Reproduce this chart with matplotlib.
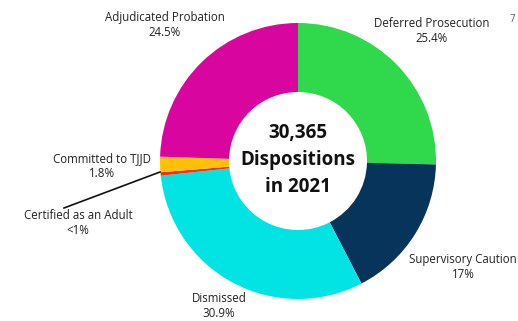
import matplotlib
matplotlib.use("Agg")
import matplotlib.pyplot as plt

# disposition shares (%), clockwise from 12 o'clock
labels = ["Deferred Prosecution", "Supervisory Caution", "Dismissed",
          "Certified as an Adult", "Committed to TJJD", "Adjudicated Probation"]
shares = [25.4, 17.0, 30.9, 0.4, 1.8, 24.5]
pct_text = ["25.4%", "17%", "30.9%", "<1%", "1.8%", "24.5%"]
colors = ["#2fd94b", "#07345a", "#02e3e3", "#f0301a", "#ffc107", "#d8069f"]

total = "30,365"

plt.rcParams['font.family'] = ['Open Sans', 'DejaVu Sans']

W, H = 518, 321
fig = plt.figure(figsize=(W / 100, H / 100), dpi=100)
ax = fig.add_axes([0, 0, 1, 1])

cx, cy, r = 298, 160, 138
ax.pie(shares, colors=colors, startangle=90, counterclock=False,
       center=(cx, cy), radius=r, wedgeprops=dict(width=r * 0.5, linewidth=0))
ax.set_xlim(0, W)
ax.set_ylim(0, H)
ax.set_aspect('equal')
ax.axis('off')

ax.text(cx, cy + 1, total + "\nDispositions\nin 2021", ha='center', va='center',
        fontsize=13.5, fontweight='bold', color='#111111', linespacing=1.45)

# label centres in pixel space (x, y from top)
label_pos = [(432, 31), (463, 267), (219, 306), (78, 223), (102, 166), (165, 25)]
for name, p, (x, y) in zip(labels, pct_text, label_pos):
    ax.text(x, H - y, name + "\n" + p, ha='center', va='center', fontsize=8.3,
            color='#222222', linespacing=1.2)

# leader line for the tiny slice
ax.plot([64, 160], [H - 208, H - 172], color='#111111', lw=1.2)

ax.text(512, H - 20, "7", ha='center', va='center', fontsize=7, color='#555555')

fig.savefig("out.png", dpi=100)
